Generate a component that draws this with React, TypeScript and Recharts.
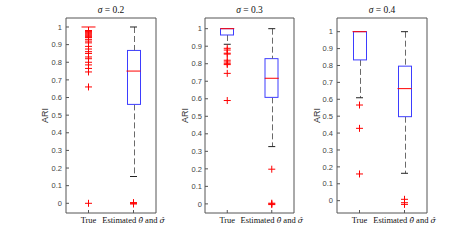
import React from 'react';
import { ComposedChart, Bar, Scatter, XAxis, YAxis } from 'recharts';

// ---------- data ----------
const categories = ['True', 'Estimated \u03B8\u0302 and \u03C3\u0302'];
const sigmaLabels = ['0.2', '0.3', '0.4'];
const yTicks = [0, 0.1, 0.2, 0.3, 0.4, 0.5, 0.6, 0.7, 0.8, 0.9, 1];
const yDomains = [
  [-0.055, 1.051],
  [-0.052, 1.061],
  [-0.073, 1.081],
];

// per panel: [True, Estimated]
const lowerWhisker = [[1, 0.152], [0.911, 0.327], [0.609, 0.162]];
const lowerQuartile = [[1, 0.561], [0.964, 0.608], [0.833, 0.497]];
const medians = [[1, 0.75], [1, 0.717], [1, 0.663]];
const upperQuartile = [[1, 0.867], [1, 0.829], [1, 0.796]];
const upperWhisker = [[1, 1], [1, 1], [1, 1]];

const outliersTrue = [
  [0.98, 0.975, 0.97, 0.965, 0.96, 0.955, 0.95, 0.945, 0.94, 0.93, 0.92, 0.91, 0.89, 0.875, 0.86, 0.85, 0.83, 0.82, 0.8, 0.785, 0.765, 0.745, 0.66, 0],
  [0.888, 0.878, 0.86, 0.855, 0.82, 0.81, 0.8, 0.795, 0.745, 0.59],
  [0.566, 0.428, 0.158],
];
const outliersEstimated = [
  [0.004, 0, -0.004],
  [0.198, 0.004, 0, -0.004],
  [0.008, -0.012, -0.022],
];

// ---------- layout ----------
const panelLeft = [20, 159, 291];
const plotWidth = [91, 90, 91];
const yAxisWidth = 46;
const rightPad = 30;
const yLabelOffset = [21, 20, 20];
const tickGap = [4, 3, 4];
const chartHeight = 240;
const boxWidth = 14;
const capWidth = 7;
const plusSize = 7;
const axisColor = '#555';
const boxColor = '#3d3dff';
const whiskerColor = '#6a6a6a';
const serif = '"Liberation Serif", "Times New Roman", serif';
const mathSerif = '"DejaVu Serif", "Liberation Serif", serif';
const sans = '"Liberation Sans", Arial, sans-serif';

const greekRe = /([\u03B8\u03C3]\u0302?)/;
const renderMath = (s: string) =>
  s.split(greekRe).filter((t) => t.length > 0).map((t, i) =>
    /[\u03B8\u03C3]/.test(t) ? (
      t.length > 1 ? (
        <tspan key={i} fontStyle="italic" fontFamily={mathSerif} fontSize="0.9em">{t}</tspan>
      ) : (
        <tspan key={i} fontStyle="italic">{t}</tspan>
      )
    ) : (
      <tspan key={i}>{t}</tspan>
    )
  );

const WhiskerShape = (p: any) => {
  const { x, y, width, height } = p;
  if (!height || height <= 0) return null;
  const cx = Math.round(x + width / 2) + 0.5;
  return (
    <line x1={cx} x2={cx} y1={y} y2={y + height} stroke={whiskerColor} strokeWidth={1} strokeDasharray="6 3" />
  );
};

const BoxShape = (p: any) => {
  const { x, y, width, height } = p;
  return (
    <rect x={x + 0.5} y={y} width={width - 1} height={Math.max(height, 0)} fill="#fff" stroke={boxColor} strokeWidth={1} />
  );
};

const HiddenShape = () => null;

const MedianShape = (p: any) => {
  const { cx, cy } = p;
  return <line x1={cx - boxWidth / 2} x2={cx + boxWidth / 2} y1={cy} y2={cy} stroke="#ff0000" strokeWidth={1} />;
};

const CapShape = (p: any) => {
  const { cx, cy } = p;
  return <line x1={cx - capWidth / 2} x2={cx + capWidth / 2} y1={cy} y2={cy} stroke="#222" strokeWidth={1} />;
};

const PlusShape = (p: any) => {
  const { cx, cy } = p;
  const h = plusSize / 2;
  return (
    <path d={`M${cx - h},${cy}H${cx + h}M${cx},${cy - h}V${cy + h}`} stroke="#ff0000" strokeWidth={1} fill="none" />
  );
};

const XTick = (p: any) => {
  const { x, y, payload } = p;
  const label = categories[payload.value - 1] ?? '';
  return (
    <text x={x} y={y} dy={6} textAnchor="middle" fontFamily={serif} fontSize={8.5} fill="#111">
      {renderMath(label)}
    </text>
  );
};

const TitleLabel = (p: any) => {
  const vb = p.viewBox || {};
  return (
    <text x={vb.x + vb.width / 2} y={vb.y + vb.height - 5} textAnchor="middle" fontFamily={serif} fontSize={9.5} fill="#111">
      {renderMath('\u03C3 = ' + p.sigma)}
    </text>
  );
};

const YLabel = (p: any) => {
  const vb = p.viewBox || {};
  const cx = vb.x + vb.width - p.off;
  const cy = vb.y + vb.height / 2;
  return (
    <text x={cx} y={cy} dy={3} textAnchor="middle" transform={`rotate(-90 ${cx} ${cy})`} fontFamily={sans} fontSize={9} fill="#333">
      ARI
    </text>
  );
};

const Panel = ({ k }: { k: number }) => {
  const rows = categories.map((_, i) => ({
    x: i + 1,
    base: lowerWhisker[k][i],
    lw: lowerQuartile[k][i] - lowerWhisker[k][i],
    box: upperQuartile[k][i] - lowerQuartile[k][i],
    uw: upperWhisker[k][i] - upperQuartile[k][i],
  }));
  const medianPts = categories.map((_, i) => ({ x: i + 1, y: medians[k][i] }));
  const capPts: { x: number; y: number }[] = [];
  categories.forEach((_, i) => {
    if (upperWhisker[k][i] > upperQuartile[k][i]) capPts.push({ x: i + 1, y: upperWhisker[k][i] });
    if (lowerWhisker[k][i] < lowerQuartile[k][i]) capPts.push({ x: i + 1, y: lowerWhisker[k][i] });
  });
  const outPts = [
    ...outliersTrue[k].map((v) => ({ x: 1, y: v })),
    ...outliersEstimated[k].map((v) => ({ x: 2, y: v })),
  ];
  const domain = yDomains[k] as [number, number];
  const w = yAxisWidth + plotWidth[k] + rightPad;
  return (
    <div style={{ position: 'absolute', left: panelLeft[k], top: 0 }}>
      <ComposedChart width={w} height={chartHeight} data={rows} margin={{ top: 0, right: rightPad, bottom: 0, left: 0 }}>
        <XAxis
          dataKey="x"
          type="number"
          domain={[0.5, 2.5]}
          ticks={[1, 2]}
          allowDataOverflow
          height={27}
          tickSize={-3}
          tickMargin={7}
          tick={<XTick />}
          stroke={axisColor}
          interval={0}
        />
        <XAxis
          xAxisId="t"
          dataKey="x"
          orientation="top"
          type="number"
          domain={[0.5, 2.5]}
          ticks={[1, 2]}
          allowDataOverflow
          height={18}
          tickSize={-3}
          tick={false}
          stroke={axisColor}
          label={<TitleLabel sigma={sigmaLabels[k]} />}
        />
        <YAxis
          type="number"
          domain={domain}
          ticks={yTicks}
          allowDataOverflow
          width={yAxisWidth}
          tickSize={-3}
          tickMargin={3 + tickGap[k]}
          tick={{ fontSize: 7.5, fill: '#444', fontFamily: sans }}
          stroke={axisColor}
          interval={0}
          label={<YLabel off={yLabelOffset[k]} />}
        />
        <YAxis
          yAxisId="r"
          orientation="right"
          type="number"
          domain={domain}
          ticks={yTicks}
          allowDataOverflow
          width={1}
          tickSize={-3}
          tick={false}
          stroke={axisColor}
          interval={0}
        />
        <Bar dataKey="base" stackId="s" barSize={boxWidth} shape={<HiddenShape />} isAnimationActive={false} />
        <Bar dataKey="lw" stackId="s" barSize={boxWidth} shape={<WhiskerShape />} isAnimationActive={false} />
        <Bar dataKey="box" stackId="s" barSize={boxWidth} shape={<BoxShape />} isAnimationActive={false} />
        <Bar dataKey="uw" stackId="s" barSize={boxWidth} shape={<WhiskerShape />} isAnimationActive={false} />
        <Scatter data={capPts} dataKey="y" shape={<CapShape />} isAnimationActive={false} />
        <Scatter data={medianPts} dataKey="y" shape={<MedianShape />} isAnimationActive={false} />
        <Scatter data={outPts} dataKey="y" shape={<PlusShape />} isAnimationActive={false} />
      </ComposedChart>
    </div>
  );
}

export default function App() {
  return (
    <div style={{ position: 'absolute', left: 0, top: 0, width: 475, height: 240, background: '#fff' }}>
      {sigmaLabels.map((_, k) => (
        <Panel key={k} k={k} />
      ))}
    </div>
  );
}
